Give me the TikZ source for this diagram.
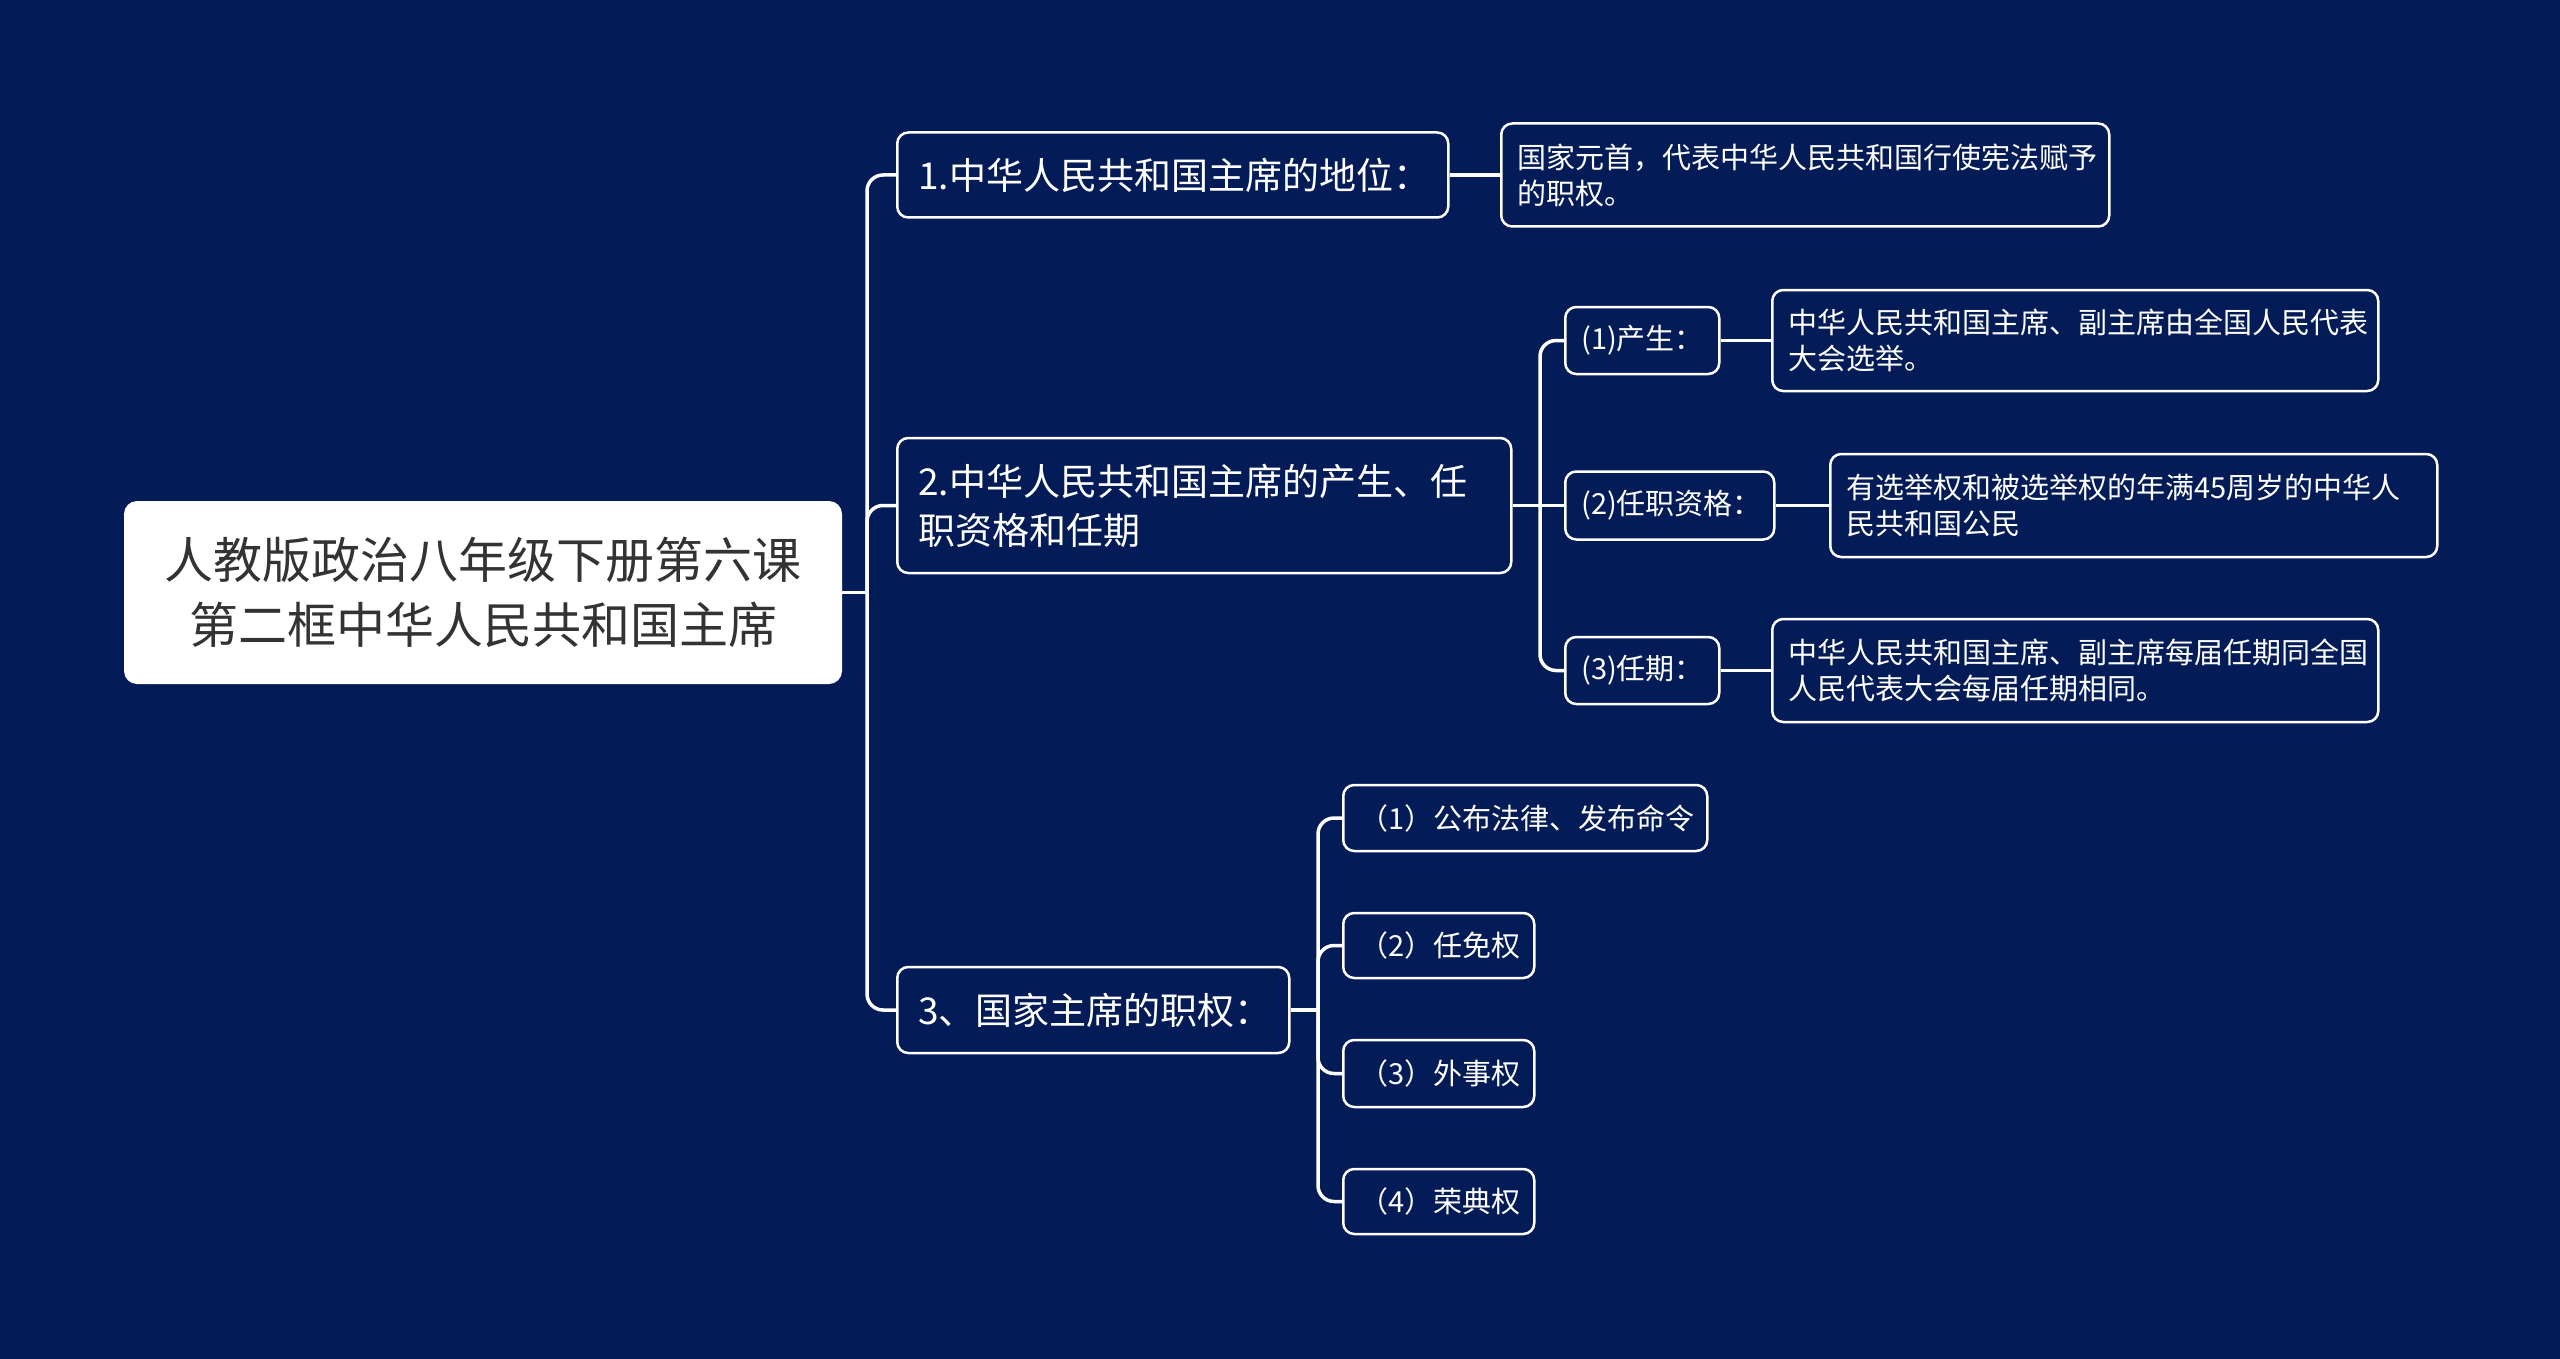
\documentclass[tikz,border=0pt]{standalone}
\usepackage{fontspec}
\setmainfont{Noto Sans CJK SC}
\definecolor{bg}{RGB}{3,27,87}
\definecolor{roottext}{RGB}{51,51,51}
\begin{document}
\begin{tikzpicture}[x=1pt,y=-1pt,
 box/.style={draw=white,line width=2.5pt,fill=bg,rounded corners=11pt,anchor=west,align=left,inner xsep=16pt,inner ysep=0pt,text=white},
 lvone/.style={box,font=\fontsize{37}{49}\selectfont,inner xsep=21pt},
 lvtwo/.style={box,font=\fontsize{29}{36}\selectfont},
 conn/.style={draw=white,line width=3.5pt,rounded corners=16pt}]
\fill[bg] (0,0) rectangle (2560,1359);
\node[fill=white,rounded corners=13pt,minimum width=718pt,minimum height=183pt,text width=680pt,align=center,text=roottext,font=\fontsize{49}{65}\selectfont,inner sep=0pt] (root) at (483,592.5) {人教版政治八年级下册第六课\\第二框中华人民共和国主席};
% level 1
\node[lvone,text width=509pt,minimum height=85pt] (n1) at (896,175) {1.中华人民共和国主席的地位：};
\node[lvone,text width=572pt,minimum height=135pt] (n2) at (896,505.5) {2.中华人民共和国主席的产生、任\\职资格和任期};
\node[lvone,text width=350pt,minimum height=86pt] (n3) at (896,1010) {3、国家主席的职权：};
% leaves of n1
\node[lvtwo,text width=576pt,minimum height=103pt] (l0) at (1500,175) {国家元首，代表中华人民共和国行使宪法赋予\\的职权。};
% children of n2
\node[lvtwo,text width=122pt,minimum height=67pt] (c1) at (1564,340.5) {(1)产生：};
\node[lvtwo,text width=177pt,minimum height=68pt] (c2) at (1564,505.5) {(2)任职资格：};
\node[lvtwo,text width=122pt,minimum height=67pt] (c3) at (1564,670.5) {(3)任期：};
\node[lvtwo,text width=574pt,minimum height=101pt] (l1) at (1771,340.5) {中华人民共和国主席、副主席由全国人民代表\\大会选举。};
\node[lvtwo,text width=575pt,minimum height=103pt] (l2) at (1829,505.5) {有选举权和被选举权的年满45周岁的中华人\\民共和国公民};
\node[lvtwo,text width=574pt,minimum height=103pt] (l3) at (1771,670.5) {中华人民共和国主席、副主席每届任期同全国\\人民代表大会每届任期相同。};
% children of n3
\node[lvtwo,text width=332pt,minimum height=66pt] (d1) at (1342,818) {（1）公布法律、发布命令};
\node[lvtwo,text width=159pt,minimum height=65pt] (d2) at (1342,945.5) {（2）任免权};
\node[lvtwo,text width=159pt,minimum height=67pt] (d3) at (1342,1073.5) {（3）外事权};
\node[lvtwo,text width=159pt,minimum height=65pt] (d4) at (1342,1201.5) {（4）荣典权};
% connectors
\coordinate (j0) at (867,592.5);
\draw[conn] (root.east) -- (j0);
\draw[conn] (j0) |- (n1.west);
\draw[conn] (j0) |- (n2.west);
\draw[conn] (j0) |- (n3.west);
\draw[conn] (n1.east) -- (l0.west);
\coordinate (j2) at (1540,505.5);
\draw[conn] (n2.east) -- (j2);
\draw[conn] (j2) |- (c1.west);
\draw[conn] (j2) -- (c2.west);
\draw[conn] (j2) |- (c3.west);
\draw[conn] (c1.east) -- (l1.west);
\draw[conn] (c2.east) -- (l2.west);
\draw[conn] (c3.east) -- (l3.west);
\coordinate (j3) at (1318,1010);
\draw[conn] (n3.east) -- (j3);
\draw[conn] (j3) |- (d1.west);
\draw[conn] (j3) |- (d2.west);
\draw[conn] (j3) |- (d3.west);
\draw[conn] (j3) |- (d4.west);
\end{tikzpicture}
\end{document}
